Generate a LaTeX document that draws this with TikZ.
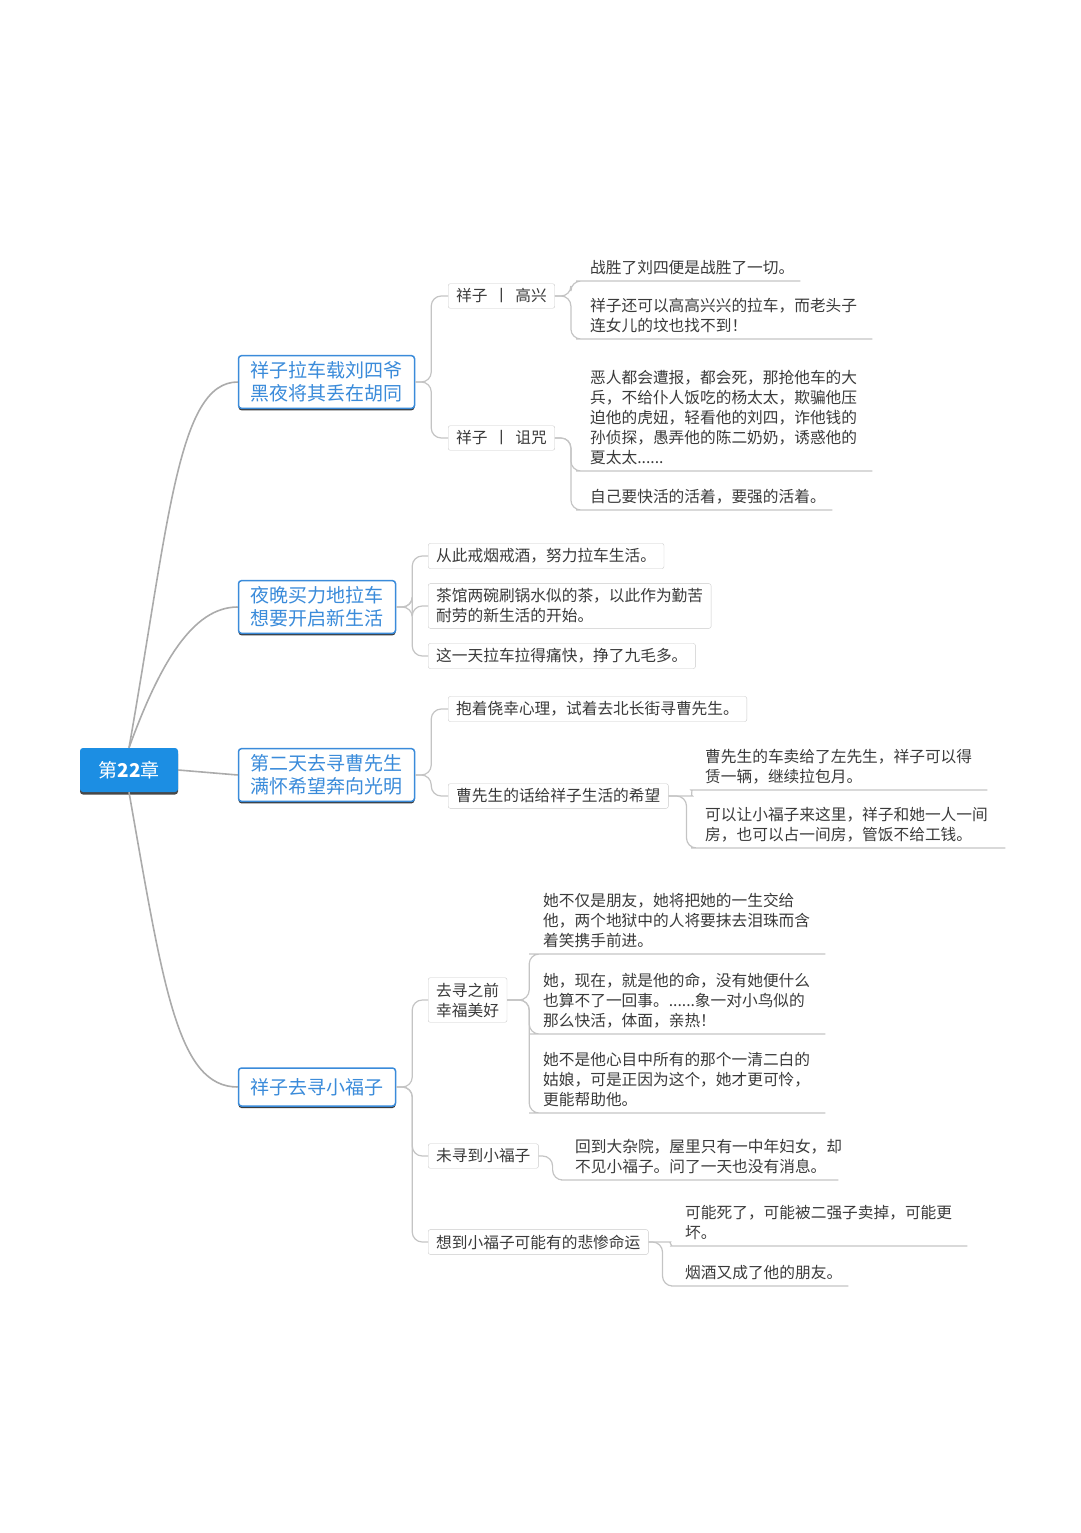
\documentclass[tikz,border=0pt]{standalone}
\usepackage{fontspec}
\setmainfont{Noto Sans CJK SC}
\usepackage{tikz}
\usetikzlibrary{shadows}
\usepackage{xcolor}

\definecolor{rootblue}{HTML}{1C8EE3}
\definecolor{branchblue}{HTML}{3A8BDA}
\definecolor{framegray}{HTML}{CACACA}
\definecolor{linegray}{HTML}{C4C4C4}
\definecolor{trunkgray}{HTML}{ABABAB}
\definecolor{textgray}{HTML}{3A3A3A}

\tikzset{
	rootbox/.style={fill=rootblue, text=white, minimum width=98pt, minimum height=44pt,
		rounded corners=3pt, font=\fontsize{19}{23}\selectfont,
		drop shadow={shadow xshift=0pt, shadow yshift=-2.5pt, fill=black!80, opacity=0.9}},
	branch/.style={draw=branchblue, line width=1.5pt, fill=white, rounded corners=3pt,
		text=branchblue, align=center, inner xsep=12pt, inner ysep=6pt, minimum height=38pt,
		font=\fontsize{19}{23}\selectfont,
		drop shadow={shadow xshift=0pt, shadow yshift=-2pt, fill=black!85, opacity=0.9}},
	topic/.style={draw=framegray, fill=white, rounded corners=2pt, anchor=west, align=left,
		inner xsep=8pt, inner ysep=5pt, text=textgray, font=\fontsize{15.7}{20}\selectfont},
	leaf/.style={anchor=south west, align=left, inner xsep=4pt, inner ysep=6pt,
		text=textgray, font=\fontsize{15.7}{20}\selectfont},
	link/.style={draw=linegray, line width=1.2pt, rounded corners=10pt},
	trunk/.style={draw=trunkgray, line width=1.6pt}
}

\begin{document}
\begin{tikzpicture}[x=1pt, y=-1pt]
	\useasboundingbox (0,0) rectangle (1080,1533);

	% centre and main branches
	\node[rootbox] (root) at (129,770) {第\textbf{22}章};
	\node[branch] (liusi) at (326.5,382) {祥子拉车载刘四爷\\黑夜将其丢在胡同};
	\node[branch] (newlife) at (317,607) {夜晚买力地拉车\\想要开启新生活};
	\node[branch] (cao) at (326.5,775) {第二天去寻曹先生\\满怀希望奔向光明};
	\node[branch] (fuzi) at (317,1087) {祥子去寻小福子};

	\draw[trunk] (root.north) .. controls +(-80:230) and +(180:60) .. (liusi.west);
	\draw[trunk] (root.north) .. controls +(-70:90) and +(180:45) .. (newlife.west);
	\draw[trunk] (root.east) -- (cao.west);
	\draw[trunk] (root.south) .. controls +(80:200) and +(180:60) .. (fuzi.west);

	% branch 1
	\node[topic] (gaoxing) at (448,296) {祥子\hspace{6pt}丨\hspace{6pt}高兴};
	\node[topic] (zuzhou) at (448,438) {祥子\hspace{6pt}丨\hspace{6pt}诅咒};
	\draw[link] (liusi.east) -- ++(16,0) |- (gaoxing.west);
	\draw[link] (liusi.east) -- ++(16,0) |- (zuzhou.west);

	\node[leaf, text width=206pt] (win) at (586,281) {战胜了刘四便是战胜了一切。};
	\node[leaf, text width=278pt] (laugh) at (586,339) {祥子还可以高高兴兴的拉车，而老头子\\连女儿的坟也找不到！};
	\draw[link] (gaoxing.east) -- ++(16,0) |- (win.south west) -- (win.south east);
	\draw[link] (gaoxing.east) -- ++(16,0) |- (laugh.south west) -- (laugh.south east);

	\node[leaf, text width=278pt] (curse) at (586,471) {恶人都会遭报，都会死，那抢他车的大\\兵，不给仆人饭吃的杨太太，欺骗他压\\迫他的虎妞，轻看他的刘四，诈他钱的\\孙侦探，愚弄他的陈二奶奶，诱惑他的\\夏太太......};
	\node[leaf, text width=238pt] (live) at (586,510) {自己要快活的活着，要强的活着。};
	\draw[link] (zuzhou.east) -- ++(16,0) |- (curse.south west) -- (curse.south east);
	\draw[link] (zuzhou.east) -- ++(16,0) |- (live.south west) -- (live.south east);

	% branch 2
	\node[topic] (quit) at (428,556) {从此戒烟戒酒，努力拉车生活。};
	\node[topic] (tea) at (428,606) {茶馆两碗刷锅水似的茶，以此作为勤苦\\耐劳的新生活的开始。};
	\node[topic] (earn) at (428,656) {这一天拉车拉得痛快，挣了九毛多。};
	\draw[link] (newlife.east) -- ++(16,0) |- (quit.west);
	\draw[link] (newlife.east) -- ++(16,0) |- (tea.west);
	\draw[link] (newlife.east) -- ++(16,0) |- (earn.west);

	% branch 3
	\node[topic] (luck) at (448,709) {抱着侥幸心理，试着去北长街寻曹先生。};
	\node[topic] (hope) at (448,796) {曹先生的话给祥子生活的希望};
	\draw[link] (cao.east) -- ++(16,0) |- (luck.west);
	\draw[link] (cao.east) -- ++(16,0) |- (hope.west);

	\node[leaf, text width=278pt] (rent) at (701,790) {曹先生的车卖给了左先生，祥子可以得\\赁一辆，继续拉包月。};
	\node[leaf, text width=296pt] (room) at (701,848) {可以让小福子来这里，祥子和她一人一间\\房，也可以占一间房，管饭不给工钱。};
	\draw[link] (hope.east) -- ++(14,0) to[out=0,in=180] (rent.south west) -- (rent.south east);
	\draw[link] (hope.east) -- ++(18,0) |- (room.south west) -- (room.south east);

	% branch 4
	\node[topic] (before) at (428,1000) {去寻之前\\幸福美好};
	\node[topic] (notfound) at (428,1156) {未寻到小福子};
	\node[topic] (fate) at (428,1242) {想到小福子可能有的悲惨命运};
	\draw[link] (fuzi.east) -- ++(16,0) |- (before.west);
	\draw[link] (fuzi.east) -- ++(16,0) |- (notfound.west);
	\draw[link] (fuzi.east) -- ++(16,0) |- (fate.west);

	\node[leaf, text width=278pt] (friend) at (539,954) {她不仅是朋友，她将把她的一生交给\\他，两个地狱中的人将要抹去泪珠而含\\着笑携手前进。};
	\node[leaf, text width=278pt] (life) at (539,1034) {她，现在，就是他的命，没有她便什么\\也算不了一回事。......象一对小鸟似的\\那么快活，体面，亲热！};
	\node[leaf, text width=278pt] (pity) at (539,1113) {她不是他心目中所有的那个一清二白的\\姑娘，可是正因为这个，她才更可怜，\\更能帮助他。};
	\draw[link] (before.east) -- ++(22,0) |- (friend.south west) -- (friend.south east);
	\draw[link] (before.east) -- ++(22,0) |- (life.south west) -- (life.south east);
	\draw[link] (before.east) -- ++(22,0) |- (pity.south west) -- (pity.south east);

	\node[leaf, text width=259pt] (yard) at (571,1180) {回到大杂院，屋里只有一中年妇女，却\\不见小福子。问了一天也没有消息。};
	\draw[link] (notfound.east) -- ++(14,0) |- (yard.south west) -- (yard.south east);

	\node[leaf, text width=278pt] (dead) at (681,1246) {可能死了，可能被二强子卖掉，可能更\\坏。};
	\node[leaf, text width=159pt] (smoke) at (681,1286) {烟酒又成了他的朋友。};
	\draw[link] (fate.east) -- ++(12,0) to[out=0,in=180] (dead.south west) -- (dead.south east);
	\draw[link] (fate.east) -- ++(14,0) |- (smoke.south west) -- (smoke.south east);
\end{tikzpicture}
\end{document}
